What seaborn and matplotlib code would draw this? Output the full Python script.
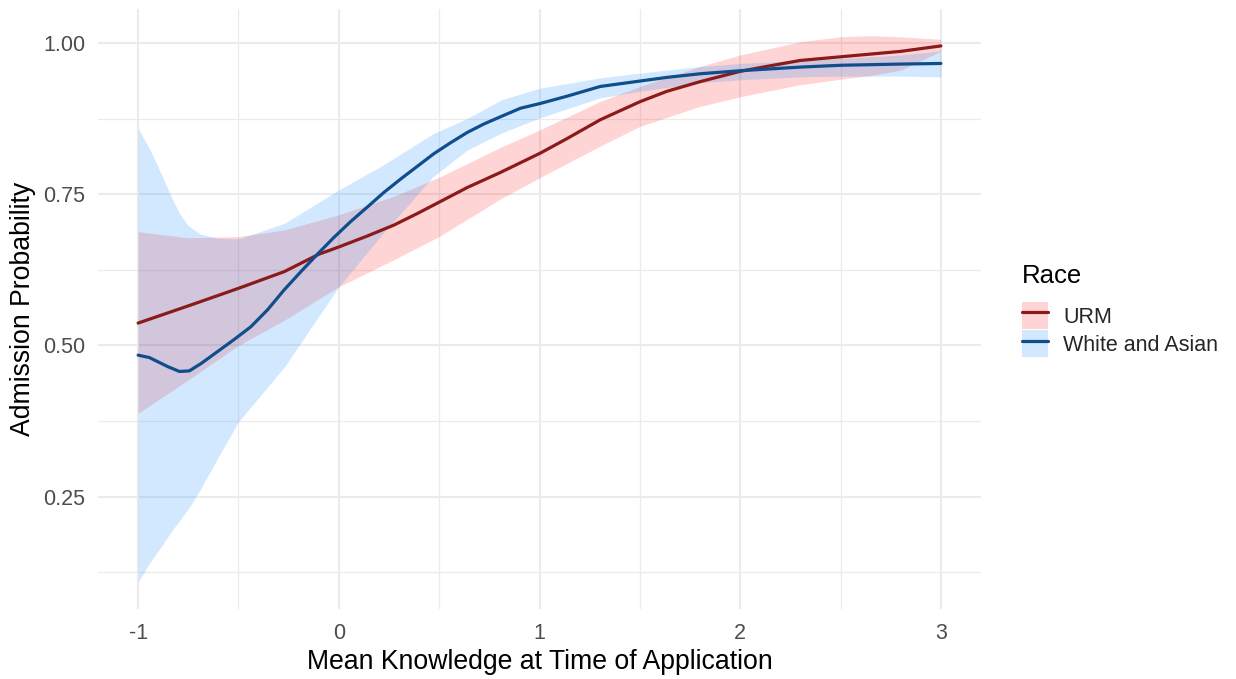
import numpy as np
import pandas as pd
import matplotlib
matplotlib.use("Agg")
import matplotlib.pyplot as plt
import seaborn as sns
from matplotlib.patches import Patch
from matplotlib.lines import Line2D
from matplotlib.legend_handler import HandlerTuple

# ---------------- data ----------------
groups = ["URM", "White and Asian"]

urm_x = [-1.0, -0.736, -0.495, -0.272, -0.098, 0.002, 0.143, 0.275, 0.391, 0.507, 0.640,
         0.806, 1.005, 1.138, 1.303, 1.502, 1.635, 1.801, 2.0, 2.13, 2.30, 2.50, 2.80, 3.0]
urm_y = [0.537, 0.567, 0.595, 0.622, 0.651, 0.663, 0.681, 0.699, 0.718, 0.738, 0.761,
         0.786, 0.818, 0.842, 0.873, 0.903, 0.920, 0.936, 0.953, 0.961, 0.971, 0.977, 0.986, 0.995]

wa_x = [-1.0, -0.944, -0.852, -0.794, -0.745, -0.687, -0.604, -0.521, -0.438, -0.355, -0.272,
        -0.189, -0.106, -0.023, 0.060, 0.143, 0.225, 0.308, 0.391, 0.474, 0.557, 0.640, 0.723,
        0.806, 0.905, 1.005, 1.138, 1.303, 1.502, 1.635, 1.801, 2.0, 2.30, 2.50, 2.80, 3.0]
wa_y = [0.484, 0.480, 0.465, 0.457, 0.458, 0.470, 0.490, 0.510, 0.531, 0.559, 0.592,
        0.622, 0.651, 0.679, 0.705, 0.729, 0.753, 0.775, 0.796, 0.817, 0.835, 0.852, 0.866,
        0.878, 0.892, 0.900, 0.912, 0.928, 0.937, 0.943, 0.949, 0.954, 0.960, 0.963, 0.965, 0.966]

urm_band_x = [-1.0, -0.75, -0.5, -0.27, 0.0, 0.27, 0.5, 0.81, 1.0, 1.3, 1.5, 1.8, 2.0,
              2.3, 2.5, 2.65, 2.8, 3.0]
urm_lo = [0.388, 0.443, 0.500, 0.542, 0.597, 0.641, 0.680, 0.743, 0.777, 0.829, 0.862,
          0.895, 0.911, 0.931, 0.940, 0.946, 0.955, 0.986]
urm_hi = [0.688, 0.678, 0.680, 0.691, 0.716, 0.746, 0.778, 0.828, 0.856, 0.903, 0.928,
          0.961, 0.980, 1.002, 1.010, 1.012, 1.010, 1.006]

wa_band_x = [-1.0, -0.94, -0.88, -0.83, -0.79, -0.75, -0.69, -0.6, -0.5, -0.27, 0.0, 0.22,
             0.47, 0.64, 0.81, 1.0, 1.3, 1.5, 1.8, 2.0, 2.3, 2.5, 2.8, 3.0]
wa_lo = [0.109, 0.142, 0.170, 0.195, 0.212, 0.230, 0.262, 0.316, 0.374, 0.465, 0.597, 0.685,
         0.779, 0.823, 0.851, 0.876, 0.909, 0.920, 0.934, 0.939, 0.944, 0.945, 0.945, 0.944]
wa_hi = [0.859, 0.823, 0.780, 0.742, 0.716, 0.698, 0.684, 0.677, 0.676, 0.702, 0.757, 0.798,
         0.850, 0.875, 0.906, 0.925, 0.942, 0.950, 0.961, 0.966, 0.971, 0.974, 0.980, 0.987]

x_ticks = [-1, 0, 1, 2, 3]
y_ticks = [0.25, 0.50, 0.75, 1.00]
y_tick_labels = ["0.25", "0.50", "0.75", "1.00"]

# ---------------- styling ----------------
line_colors = {"URM": "#8B1A1A", "White and Asian": "#104E8B"}
fill_colors = {"URM": ("#FF0000", 0.17), "White and Asian": ("#1E90FF", 0.20)}

sns.set_theme(style="white")
plt.rcParams["font.family"] = ["Liberation Sans", "DejaVu Sans"]

W, H = 1236, 679
fig = plt.figure(figsize=(W / 100, H / 100), dpi=100)
ax = fig.add_axes([98 / W, 70 / H, 883 / W, 600 / H])

# ribbons
ax.fill_between(urm_band_x, urm_lo, urm_hi, color=fill_colors["URM"][0],
                alpha=fill_colors["URM"][1], lw=0, zorder=1)
ax.fill_between(wa_band_x, wa_lo, wa_hi, color=fill_colors["White and Asian"][0],
                alpha=fill_colors["White and Asian"][1], lw=0, zorder=1)

df = pd.concat([
    pd.DataFrame({"x": urm_x, "y": urm_y, "Race": "URM"}),
    pd.DataFrame({"x": wa_x, "y": wa_y, "Race": "White and Asian"}),
])
sns.lineplot(data=df, x="x", y="y", hue="Race", hue_order=groups, palette=line_colors,
             lw=2.3, ax=ax, legend=False, zorder=3, sort=False, estimator=None)

ax.set_xlim(-1.2, 3.2)
ax.set_ylim(0.0645, 1.056)
ax.set_xticks(x_ticks)
ax.set_xticklabels([str(v) for v in x_ticks])
ax.set_yticks(y_ticks)
ax.set_yticklabels(y_tick_labels)
ax.set_xticks([-0.5, 0.5, 1.5, 2.5], minor=True)
ax.set_yticks([0.125, 0.375, 0.625, 0.875], minor=True)
ax.grid(which="major", color="#EBEBEB", lw=1.5, zorder=0)
ax.grid(which="minor", color="#EBEBEB", lw=0.9, zorder=0)
ax.set_axisbelow(True)
for s in ax.spines.values():
    s.set_visible(False)
ax.tick_params(which="both", length=0, labelsize=15.5, colors="#4D4D4D")
ax.tick_params(axis="y", pad=9)
ax.tick_params(axis="x", pad=10)

ax.set_xlabel("Mean Knowledge at Time of Application", fontsize=19.2, color="black", labelpad=4)
ax.set_ylabel("Admission Probability", fontsize=19.2, color="black", labelpad=5)

# legend (title drawn as its own text for exact spacing)
fig.text(1022 / W, 1 - 283 / H, "Race", fontsize=18.5, color="black",
         ha="left", va="baseline")
handles = []
for g in groups:
    fc, a = fill_colors[g]
    handles.append((Patch(facecolor=fc, alpha=a, edgecolor="none"),
                    Line2D([0], [0], color=line_colors[g], lw=2.3)))
leg = fig.legend(handles, groups, handler_map={tuple: HandlerTuple(ndivide=1, pad=0)},
                 loc="upper left", bbox_to_anchor=(1022 / W, 1 - 302 / H),
                 frameon=False, fontsize=15.5,
                 handlelength=1.2, handleheight=1.55, labelspacing=0.07,
                 handletextpad=0.7, borderpad=0, borderaxespad=0)

fig.savefig("out.png", dpi=100)
